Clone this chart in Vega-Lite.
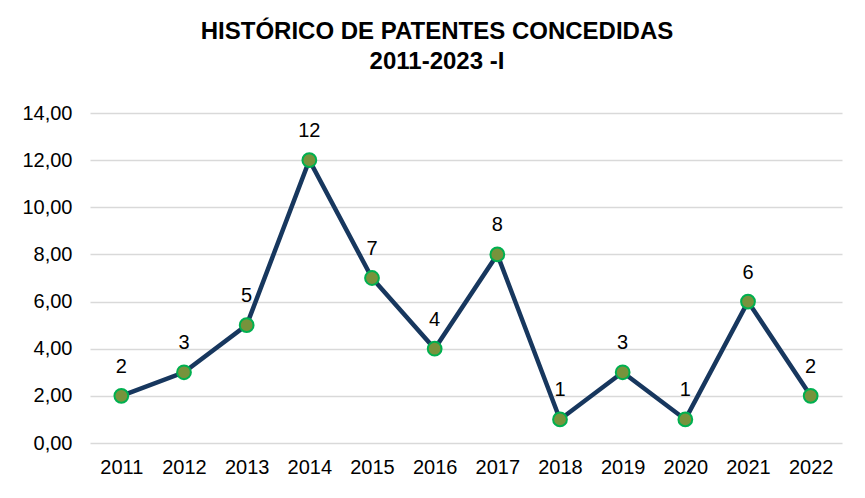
{
  "$schema": "https://vega.github.io/schema/vega-lite/v6.json",
  "width": 752,
  "height": 330,
  "autosize": "none",
  "padding": {"left": 90, "top": 113, "right": 23, "bottom": 55},
  "background": "white",
  "title": {
    "text": ["HISTÓRICO DE PATENTES CONCEDIDAS", "2011-2023 -I"],
    "font": "Liberation Sans",
    "fontSize": 24,
    "fontWeight": "bold",
    "color": "black",
    "anchor": "middle",
    "dx": -29,
    "offset": 29,
    "lineHeight": 30
  },
  "data": {
    "values": [
      {"ano": "2011", "patentes": 2},
      {"ano": "2012", "patentes": 3},
      {"ano": "2013", "patentes": 5},
      {"ano": "2014", "patentes": 12},
      {"ano": "2015", "patentes": 7},
      {"ano": "2016", "patentes": 4},
      {"ano": "2017", "patentes": 8},
      {"ano": "2018", "patentes": 1},
      {"ano": "2019", "patentes": 3},
      {"ano": "2020", "patentes": 1},
      {"ano": "2021", "patentes": 6},
      {"ano": "2022", "patentes": 2}
    ]
  },
  "config": {
    "view": {"stroke": null},
    "font": "Liberation Sans"
  },
  "encoding": {
    "x": {
      "field": "ano", "type": "ordinal", "title": null,
      "scale": {"type": "point", "padding": 0.5},
      "axis": {"labelAngle": 0, "labelFontSize": 20, "labelColor": "black", "domain": false, "ticks": false, "labelPadding": 14, "grid": false}
    },
    "y": {
      "field": "patentes", "type": "quantitative", "title": null,
      "scale": {"domain": [0, 14], "nice": false},
      "axis": {"values": [0, 2, 4, 6, 8, 10, 12, 14], "labelExpr": "replace(format(datum.value, '.2f'), '.', ',')", "labelFontSize": 20, "labelColor": "black", "domain": false, "ticks": false, "labelPadding": 18, "gridColor": "#d9d9d9", "gridWidth": 1.5}
    }
  },
  "layer": [
    {"mark": {"type": "line", "color": "#17375E", "strokeWidth": 4.5}},
    {"mark": {"type": "point", "filled": true, "fill": "#77933C", "stroke": "#00B050", "strokeWidth": 2, "size": 190, "opacity": 1}},
    {"mark": {"type": "text", "dy": -29, "fontSize": 20, "color": "black"}, "encoding": {"text": {"field": "patentes", "type": "quantitative"}}}
  ]
}
